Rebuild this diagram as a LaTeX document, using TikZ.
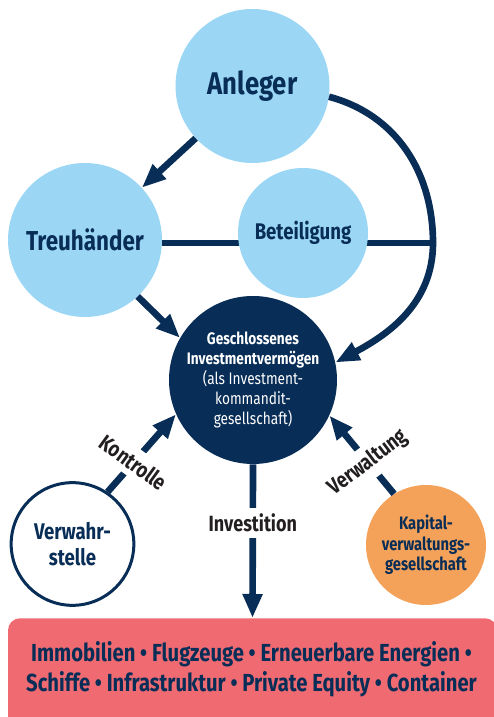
\documentclass[tikz,border=0pt]{standalone}
\usepackage{fontspec}
\setmainfont{Fira Sans}[FakeStretch=0.82]
\usetikzlibrary{arrows.meta}
\definecolor{skyblue}{RGB}{155,215,245}
\definecolor{navy}{RGB}{8,45,87}
\definecolor{apricot}{RGB}{244,162,89}
\definecolor{salmon}{RGB}{239,107,113}
\definecolor{ink}{RGB}{35,31,32}
\begin{document}
\begin{tikzpicture}[x=0.75pt, y=0.75pt,
  party/.style={circle, fill=skyblue, inner sep=0pt, text=navy, align=center},
  flow/.style={draw=navy, line width=5pt, -{Triangle[length=18pt, width=14pt]}},
  tag/.style={fill=white, text=ink, font=\bfseries\fontsize{16.5}{16.5}\selectfont, inner xsep=1pt, inner ysep=4.5pt}]
\useasboundingbox (0,0) rectangle (493,717);
% investors and trustee
\node[party, minimum size=115.5pt, font=\bfseries\fontsize{23.5}{23.5}\selectfont] (anleger) at (252.5,631) {Anleger};
\node[party, minimum size=115.5pt, font=\bfseries\fontsize{20.5}{20.5}\selectfont] (treu) at (85,477) {Treuhänder};
% the fund
\node[circle, fill=navy, text=white, inner sep=0pt, minimum size=126pt, align=center,
  font=\fontsize{12.5}{15}\selectfont] (fund) at (253,337)
  {\textbf{Geschlossenes}\\\textbf{Investmentvermögen}\\(als Investment-\\kommandit-\\gesellschaft)};
\node[circle, draw=navy, line width=2.25pt, fill=white, inner sep=0pt, minimum size=92pt, text=navy,
  align=center, font=\bfseries\fontsize{17}{19}\selectfont] (verw) at (72.5,173) {Verwahr-\\stelle};
\node[circle, fill=apricot, inner sep=0pt, minimum size=90pt, text=navy, align=center,
  font=\bfseries\fontsize{13.5}{15.5}\selectfont] (kvg) at (426,172) {Kapital-\\verwaltungs-\\gesellschaft};
% assets
\node[fill=salmon, rounded corners=9pt, anchor=north, minimum width=366.75pt, minimum height=100pt] (assets) at (252.5,99) {};
\node[text=navy, align=center, font=\bfseries\fontsize{18.5}{22.5}\selectfont] (assetlist) at (251.5,48)
  {Immobilien • Flugzeuge • Erneuerbare Energien •\\Schiffe • Infrastruktur • Private Equity • Container};
% connectors
\coordinate (bend) at (433,474);
\draw[flow] (anleger) -- (treu);
\draw[flow] (treu.-47) -- (fund.150);
\draw[flow] (anleger.-8) to[out=-15, in=90] (bend) to[out=-90, in=28] (fund.12);
\draw[navy, line width=5pt] (treu.east |- bend) -- (bend);
\node[party, minimum size=97.5pt, font=\bfseries\fontsize{17}{17}\selectfont] (beteil) at (303,484) {Beteiligung};
\draw[flow] (verw.56) -- node[tag, pos=0.38, rotate=-36] {Kontrolle} (fund.204);
\draw[flow] (kvg.122) -- node[tag, pos=0.4, rotate=37] {Verwaltung} (fund.-25);
\draw[flow] (fund.south) -- node[tag, pos=0.38] {Investition} (assets.north);
\end{tikzpicture}
\end{document}
